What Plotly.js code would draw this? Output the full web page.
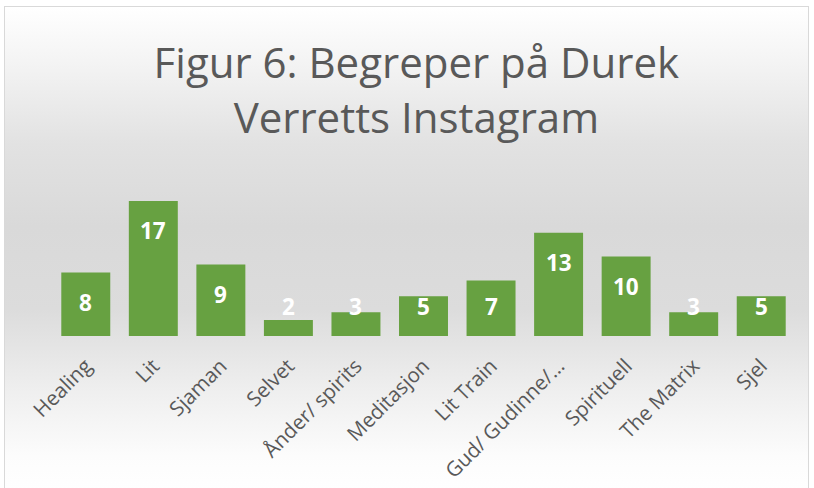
<!DOCTYPE html>
<html>
<head>
<meta charset="utf-8">
<script src="https://cdn.plot.ly/plotly-3.0.1.min.js"></script>
<style>
  html, body { margin: 0; padding: 0; background: #ffffff; }
  #frame {
    position: absolute; left: 4px; top: 6px; width: 805px; height: 490px;
    border: 1px solid #d9d9d9; box-sizing: border-box;
    background: linear-gradient(to bottom, #ffffff 0%, #f3f3f3 12%, #e2e2e2 28%, #d9d9d9 45%, #dcdcdc 62%, #eeeeee 78%, #fcfcfc 92%, #ffffff 100%);
  }
  #chart { position: absolute; left: 0; top: 0; width: 814px; height: 488px; }
</style>
</head>
<body>
<div id="frame"></div>
<div id="chart"></div>
<script>
const categories = ["Healing", "Lit", "Sjaman", "Selvet", "Ånder/ spirits", "Meditasjon", "Lit Train", "Gud/ Gudinne/…", "Spirituell", "The Matrix", "Sjel"];
const values = [8, 17, 9, 2, 3, 5, 7, 13, 10, 3, 5];
const titleText = "Figur 6: Begreper på Durek<br>Verretts Instagram";

const labelFloor = 7.43; // labels of short bars sit at a common height
const annotations = categories.map((c, i) => ({
  x: c, y: Math.max(values[i], labelFloor), xref: "x", yref: "y",
  text: String(values[i]), showarrow: false, yanchor: "middle", yshift: -30,
  font: { family: "Open Sans, sans-serif", size: 22.5, color: "#ffffff", weight: 700 }
}));

const trace = {
  type: "bar", x: categories, y: values,
  marker: { color: "#67a141", line: { width: 0 } },
  hoverinfo: "x+y"
};

const layout = {
  width: 814, height: 488,
  paper_bgcolor: "rgba(0,0,0,0)", plot_bgcolor: "rgba(0,0,0,0)",
  margin: { l: 52, r: 19, t: 0, b: 152 },
  bargap: 0.275,
  showlegend: false,
  title: {
    text: titleText, x: 0.5115, xanchor: "center", y: 0.84, yanchor: "top", yref: "container",
    font: { family: "Open Sans, sans-serif", size: 42, color: "#595959" }
  },
  xaxis: {
    tickangle: -45, ticks: "", showline: false, showgrid: false, zeroline: false,
    ticklabelstandoff: 13,
    tickfont: { family: "Open Sans, sans-serif", size: 20.5, color: "#595959" }
  },
  yaxis: { range: [0, 42.3], visible: false, showgrid: false, zeroline: false },
  annotations: annotations
};

Plotly.newPlot("chart", [trace], layout, { displayModeBar: false, staticPlot: true });
</script>
</body>
</html>
